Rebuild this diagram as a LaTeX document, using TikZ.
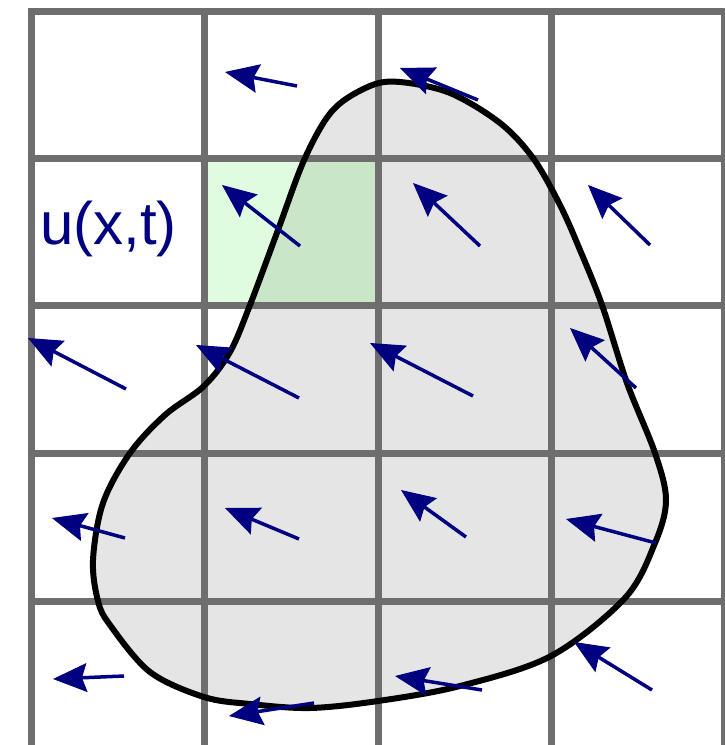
\documentclass[tikz,border=0pt]{standalone}
\usepackage{fontspec}
\setmainfont{Liberation Sans}
\usetikzlibrary{arrows.meta}
\definecolor{gridgray}{RGB}{110,110,110}
\definecolor{blobgray}{RGB}{229,229,229}
\definecolor{cellgreen}{RGB}{224,252,224}
\definecolor{cellgreendark}{RGB}{201,230,201}
\definecolor{vecnavy}{RGB}{0,0,128}
\tikzset{
  gridline/.style={draw=gridgray, line width=7pt},
  blobline/.style={draw=black, line width=6pt},
  vec/.style={draw=vecnavy, line width=3.5pt, -{Stealth[length=34pt,width=29pt,inset=5pt,line width=1pt]}},
  lbl/.style={text=vecnavy, inner sep=0pt, anchor=base west, font=\fontsize{60}{63}\selectfont}
}
\begin{document}
\begin{tikzpicture}[x=1pt,y=-1pt]
\useasboundingbox (0,0) rectangle (725,745);
\clip (0,0) rectangle (725,745);
\def\blobpath{plot[smooth cycle, tension=0.55] coordinates {
 (400,82) (450,93) (500,123) (533,158) (560,205) (580,250) (602,305) (627,383)
 (655,453) (666,500) (655,543) (625,598) (551,656) (460,686)
 (378,701) (310,708) (250,704) (204,697) (150,672) (110,625) (98,601) (93,560)
 (103,503) (130,453) (165,415) (204,386) (230,352) (250,305) (278,230) (305,158)
 (333,110) (370,86)}}
% blob fill
\fill[blobgray] \blobpath;
% highlighted cell
\fill[cellgreen] (204.5,158) rectangle (378,305.5);
\begin{scope}
  \clip (204.5,158) rectangle (378,305.5);
  \fill[cellgreendark] \blobpath;
\end{scope}
% grid
\foreach \x in {31,204.5,378,551,724.5} \draw[gridline] (\x,7.5) -- (\x,760);
\foreach \y in {11,158,305.5,453,601} \draw[gridline] (27.5,\y) -- (740,\y);
% blob outline
\draw[blobline] \blobpath;
% label
\node[lbl] (ulabel) at (40,244) {u(x,t)};
% velocity vectors
\foreach \tx/\ty/\hx/\hy in {
 297/86/225/72, 478/100/400/68,
 300/246/222/185, 480/246/413/183, 650/245/588/185,
 126/389/28/338, 299/398/196/345, 473/396/370/343, 636/388/570/328,
 125/538/52/518, 299/539/225/508, 466/537/401/490, 656/543/566/519,
 124/676/53/679, 314/703/229/716, 482/690/395/676, 652/690/574/642}
 \draw[vec] (\tx,\ty) -- (\hx,\hy);
\end{tikzpicture}
\end{document}
